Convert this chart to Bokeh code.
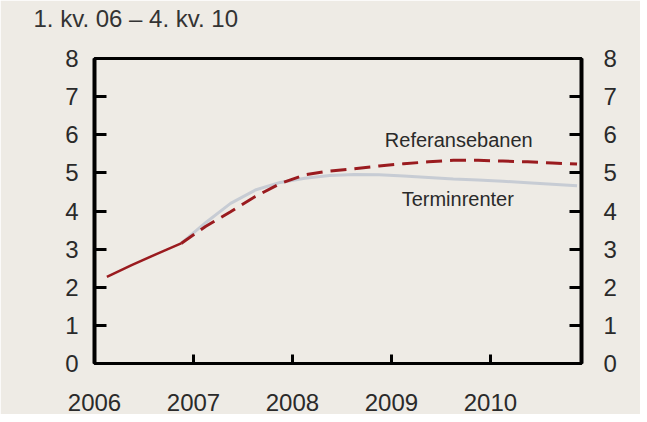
from bokeh.plotting import figure
from bokeh.models import Range1d, LinearAxis, FixedTicker, Label
from bokeh.embed import file_html
from bokeh.resources import INLINE

# Quarterly data, 1Q06 - 4Q10 (x = mid-quarter)
quarters = [2006.125 + 0.25 * i for i in range(20)]
referanse = [2.27, 2.58, 2.87, 3.15, 3.60, 3.98, 4.38, 4.72, 4.95, 5.05,
             5.11, 5.18, 5.24, 5.29, 5.33, 5.33, 5.31, 5.29, 5.26, 5.23]
termin_x = quarters[3:]
termin = [3.15, 3.70, 4.20, 4.55, 4.75, 4.86, 4.93, 4.96, 4.95, 4.92,
          4.88, 4.84, 4.81, 4.78, 4.74, 4.70, 4.66]
hist_n = 4  # solid (historical) part of the reference path
year_ticks = [2006, 2007, 2008, 2009, 2010]
y_ticks = [0, 1, 2, 3, 4, 5, 6, 7, 8]
title_text = "1. kv. 06 \u2013 4. kv. 10"

BG = "#EEEBE5"
FONT = "Liberation Sans"
TXT = "#2a2a2a"

p = figure(width=640, height=414, output_backend="svg", toolbar_location=None,
           x_range=Range1d(2006, 2010.92), y_range=Range1d(0, 8),
           min_border_left=94, min_border_right=59, min_border_top=58,
           min_border_bottom=51)
p.background_fill_color = BG
p.border_fill_color = BG
p.outline_line_color = "black"
p.outline_line_width = 3
p.grid.visible = False

# title: a trailing blank line lifts the text away from the frame
p.title.text = title_text + "\n "
p.title.text_font = FONT
p.title.text_font_size = "24px"
p.title.text_font_style = "normal"
p.title.text_color = "#333333"
p.title.text_line_height = 1.0
p.title.align = "left"
p.title.vertical_align = "bottom"
p.title.offset = -61
p.title.standoff = 0

# x axis
xa = p.xaxis[0]
xa.ticker = FixedTicker(ticks=year_ticks, minor_ticks=[])
xa.major_tick_in = 9
xa.major_tick_out = 0
xa.major_tick_line_width = 3
xa.major_tick_line_color = "black"
xa.minor_tick_line_color = None
xa.axis_line_color = "black"
xa.axis_line_width = 2
xa.major_label_standoff = 30
xa.major_label_text_font = FONT
xa.major_label_text_font_size = "24px"
xa.major_label_text_color = TXT

# y axes
ya = p.yaxis[0]
right = LinearAxis()
p.add_layout(right, "right")
for ax, stand in ((ya, 16), (right, 22)):
    ax.ticker = FixedTicker(ticks=y_ticks, minor_ticks=[])
    ax.major_tick_in = 12
    ax.major_tick_out = 0
    ax.major_tick_line_width = 3
    ax.major_tick_line_color = "black"
    ax.minor_tick_line_color = None
    ax.axis_line_color = "black"
    ax.axis_line_width = 4
    ax.major_label_standoff = stand
    ax.major_label_text_font = FONT
    ax.major_label_text_font_size = "24px"
    ax.major_label_text_color = TXT

# lines
p.line(termin_x, termin, line_color="#C7CCD4", line_width=3)
p.line(quarters[:hist_n], referanse[:hist_n], line_color="#9A1B1F", line_width=2.5)
p.line(quarters[hist_n - 1:], referanse[hist_n - 1:], line_color="#9A1B1F",
       line_width=3, line_dash="16 8")

for txt, xx, yy in (("Referansebanen", 2009.68, 5.86), ("Terminrenter", 2009.67, 4.31)):
    p.add_layout(Label(x=xx, y=yy, text=txt, text_font=FONT, text_font_size="20px",
                       text_color=TXT, text_align="center", text_baseline="middle"))

open("out.html", "w").write(file_html(p, INLINE))
